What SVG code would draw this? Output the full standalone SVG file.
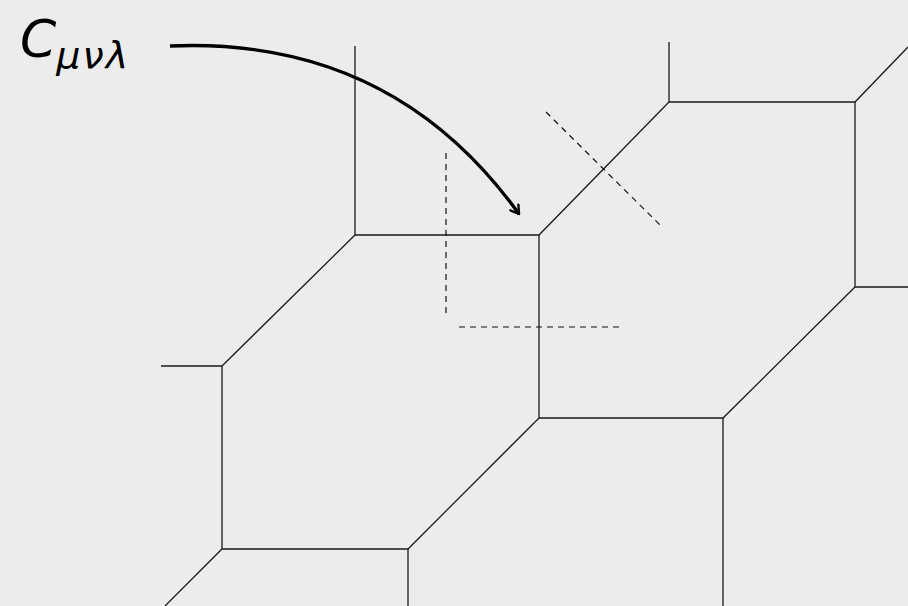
<svg xmlns="http://www.w3.org/2000/svg" width="908" height="606" viewBox="0 0 908 606">
<style>
.e{stroke:#1a1a1a;stroke-width:1.3;fill:none}
.d{stroke:#111;stroke-width:1.2;fill:none;stroke-dasharray:6,5}
.lbl{font-family:"DejaVu Sans",sans-serif;font-style:oblique;fill:#000;font-weight:300}
</style>
<defs>
<marker id="ah" viewBox="0 0 12 12" refX="10" refY="6" markerWidth="12" markerHeight="12" markerUnits="userSpaceOnUse" orient="auto">
<path d="M2,1 L10,6 L2,11" fill="none" stroke="#000" stroke-width="2.4" stroke-linecap="round" stroke-linejoin="round"/>
</marker>
</defs>
<rect width="908" height="606" fill="#ececec"/>
<g id="lattice">
<path class="e" d="M355,46 L355,235 L539,235 L669,102 L669,42"/>
<path class="e" d="M669,102 L855,102 L908,47"/>
<path class="e" d="M855,102 L855,287 L908,287"/>
<path class="e" d="M855,287 L723,418 L539,418 L539,235"/>
<path class="e" d="M723,418 L723,606"/>
<path class="e" d="M539,418 L408,549 L222,549 L165,606"/>
<path class="e" d="M408,549 L408,606"/>
<path class="e" d="M222,549 L222,366 L161,366"/>
<path class="e" d="M222,366 L355,235"/>
</g>
<g id="dashed">
<path class="d" d="M446,153 L446,314"/>
<path class="d" d="M459,327 L619,327"/>
<path class="d" d="M546,112 L661,226"/>
</g>
<g id="connectors">
<path d="M170,46 C310,40 430,90 519,214" fill="none" stroke="#000" stroke-width="3.3" marker-end="url(#ah)"/>
</g>
<g id="label">
<text class="lbl" x="20" y="57" font-size="52">C<tspan font-size="38" dy="11" letter-spacing="2">μνλ</tspan></text>
</g>
</svg>
